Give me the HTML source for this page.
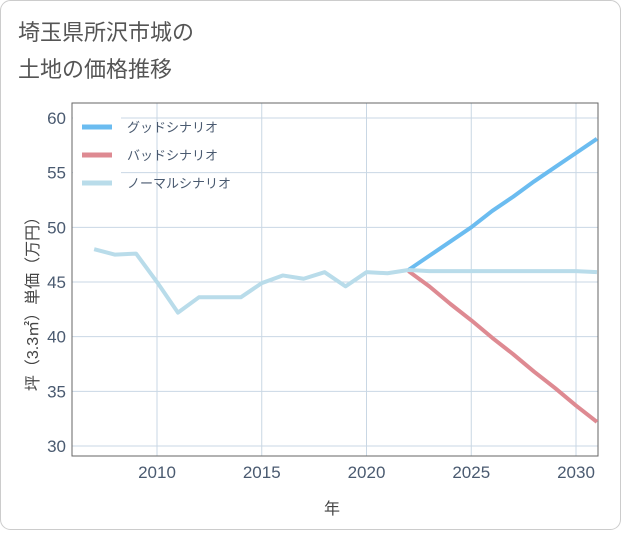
<!DOCTYPE html>
<html><head><meta charset="utf-8"><style>
body{margin:0;background:#fff}
svg text{font-family:"Liberation Sans","Noto Sans CJK JP",sans-serif}
</style></head><body>
<svg width="621" height="530">
<rect x="0.5" y="0.5" width="620" height="529" rx="10" fill="#fff" stroke="#ccc"/>
<text x="18" y="40" font-size="22" fill="#555">埼玉県所沢市城の</text>
<text x="18" y="77" font-size="22" fill="#555">土地の価格推移</text>
<g id="plot"></g>
<text x="332" y="514" font-size="16" fill="#444" text-anchor="middle">年</text>
<text transform="translate(38,300) rotate(-90)" font-size="16" fill="#444" text-anchor="middle">坪（3.3㎡）単価（万円）</text>
</svg>
<script>
const years=[2007,2008,2009,2010,2011,2012,2013,2014,2015,2016,2017,2018,2019,2020,2021,2022];
const hist=[48,47.5,47.6,45,42.2,43.6,43.6,43.6,44.9,45.6,45.3,45.9,44.6,45.9,45.8,46.1];
const futYears=[2022,2023,2024,2025,2026,2027,2028,2029,2030,2031];
const good=[46.1,47.4,48.7,50,51.5,52.8,54.2,55.5,56.8,58.1];
const bad=[46.0,44.6,43,41.5,39.9,38.4,36.8,35.3,33.7,32.2];
const normal=[46.1,46.0,46.0,46.0,46.0,46.0,46.0,46.0,46.0,45.9];
const yTicks=[30,35,40,45,50,55,60];
const xTicks=[2010,2015,2020,2025,2030];
const L=72,R=598,T=103,B=456;
const X=v=>157+(v-2010)*20.95;
const Y=v=>446-(v-30)*10.933;
const g=document.getElementById('plot');const NS='http://www.w3.org/2000/svg';
function el(t,a){const e=document.createElementNS(NS,t);for(const k in a)e.setAttribute(k,a[k]);g.appendChild(e);return e;}
yTicks.forEach(v=>{const l=el('line',{x1:L,x2:R,y1:Y(v),y2:Y(v),stroke:'#c9d7e4'});


const t=el('text',{x:L-6,y:Y(v)+6,'font-size':17,fill:'#4a5a70','text-anchor':'end'});t.textContent=v;

});
xTicks.forEach(v=>{const l=el('line',{x1:X(v),x2:X(v),y1:T,y2:B,stroke:'#c9d7e4'});


const t=el('text',{x:X(v),y:B+22,'font-size':17,fill:'#4a5a70','text-anchor':'middle'});t.textContent=v;

});
const lb=el('rect',{x:L+1,y:T+1,width:48,height:70,fill:'#fff'});


const fr=el('rect',{x:L,y:T,width:R-L,height:B-T,fill:'none',stroke:'#666'});


function line(xs,ys,c,n){const p=el('polyline',{points:xs.map((x,i)=>X(x)+','+Y(ys[i])).join(' '),fill:'none',stroke:c,'stroke-width':4,'stroke-linejoin':'round'});

}
line(futYears,good,'#6bbcf0','good-scenario-line');
line(futYears,bad,'#de8a92','bad-scenario-line');
line(futYears,normal,'#b9dcea','normal-scenario-line');
line(years,hist,'#b9dcea','historical-line');
const leg=[['グッドシナリオ','#6bbcf0'],['バッドシナリオ','#de8a92'],['ノーマルシナリオ','#b9dcea']];
leg.forEach((d,i)=>{const y=127+i*28;const l=el('line',{x1:82,x2:112,y1:y,y2:y,stroke:d[1],'stroke-width':5});


const t=el('text',{x:127,y:y+5,'font-size':13,fill:'#4a5a70'});t.textContent=d[0];

});
</script>
</body></html>
